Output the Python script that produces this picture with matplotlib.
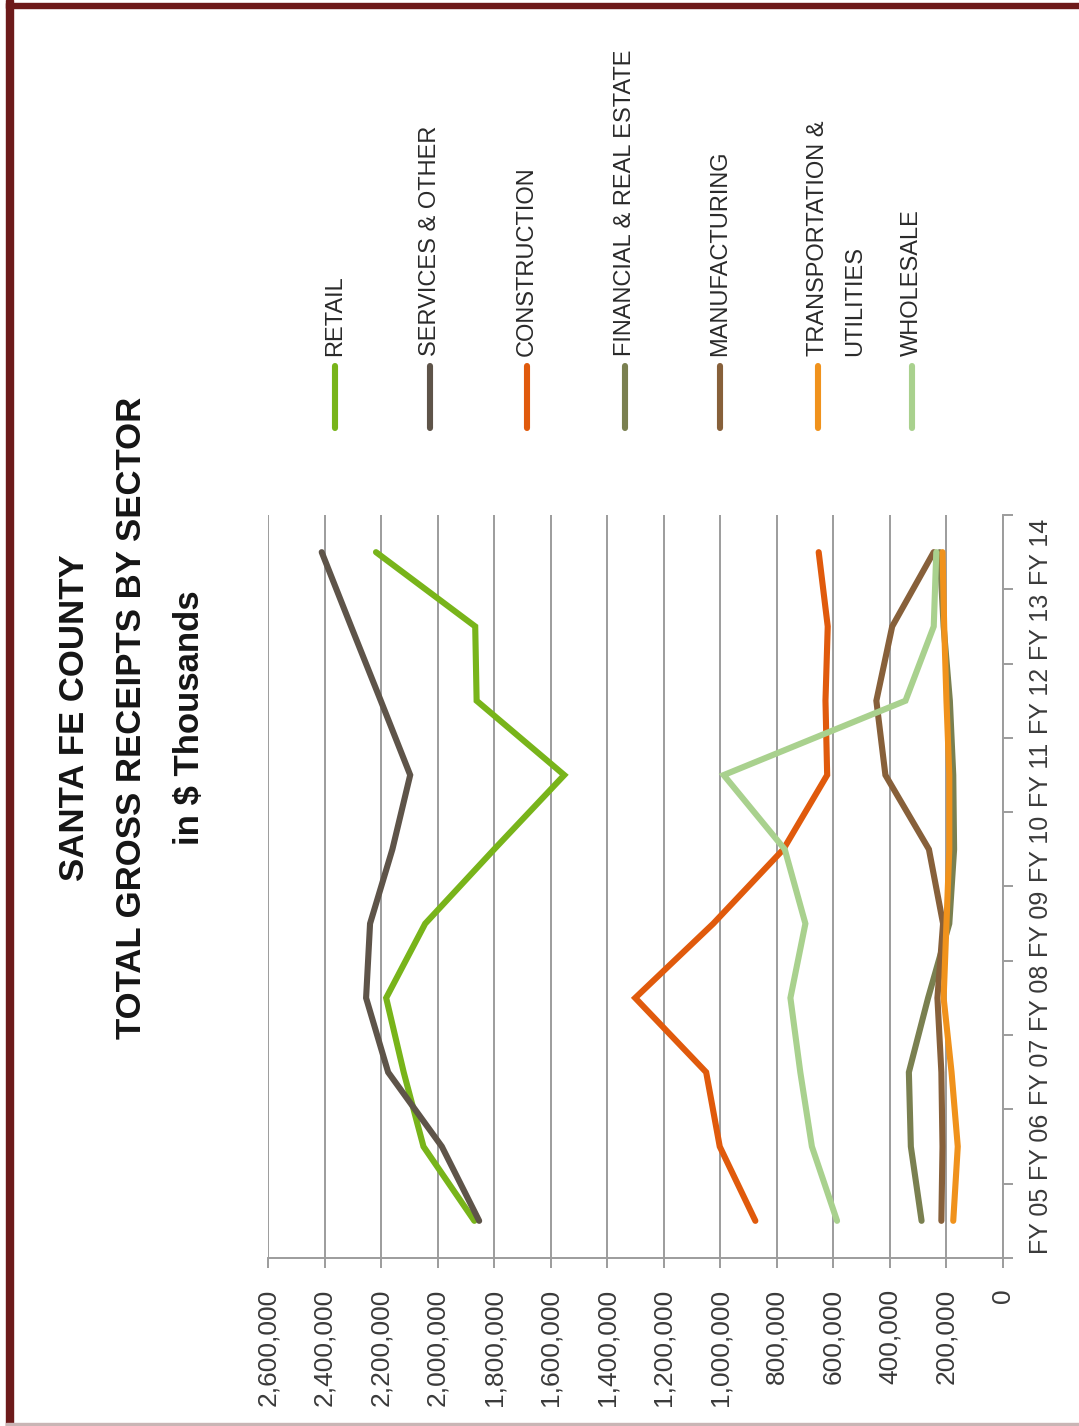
import matplotlib
matplotlib.use('Agg')
import matplotlib.pyplot as plt
from matplotlib.lines import Line2D
from matplotlib.patches import Rectangle
from matplotlib.ticker import FixedLocator, FuncFormatter

W, H = 1079, 1426

years = ['FY 05', 'FY 06', 'FY 07', 'FY 08', 'FY 09',
         'FY 10', 'FY 11', 'FY 12', 'FY 13', 'FY 14']

# gross receipts, $ thousands
retail = [1870000, 2050000, 2120000, 2182000, 2044000,
          1800000, 1552000, 1862000, 1867000, 2218000]
services = [1853000, 1985000, 2175000, 2253000, 2239000,
            2160000, 2097000, 2201000, 2306000, 2410000]
construction = [876000, 1002000, 1050000, 1301000, 1025000,
                777000, 622000, 628000, 620000, 652000]
financial = [288000, 326000, 333000, 265000, 190000,
             173000, 176000, 188000, 210000, 224000]
manufacturing = [218000, 214000, 218000, 232000, 212000,
                 262000, 416000, 448000, 392000, 245000]
transportation = [176000, 160000, 182000, 210000, 200000,
                  190000, 190000, 200000, 208000, 214000]
wholesale = [587000, 676000, 717000, 752000, 699000,
             772000, 988000, 345000, 245000, 236000]

sectors = ['RETAIL', 'SERVICES & OTHER', 'CONSTRUCTION',
           'FINANCIAL & REAL ESTATE', 'MANUFACTURING',
           'TRANSPORTATION &\nUTILITIES', 'WHOLESALE']
series = [retail, services, construction, financial,
          manufacturing, transportation, wholesale]
colors = ['#78b41a', '#5e5449', '#e05a0c', '#7a8050',
          '#87603a', '#f0921c', '#a9d18e']

value_ticks = list(range(0, 2600001, 200000))

plt.rcParams['font.family'] = ['Liberation Sans', 'DejaVu Sans']


def fx(px):
    return px / W


def fy(py):
    return 1 - py / H


fig = plt.figure(figsize=(W / 100, H / 100), dpi=100)
fig.patch.set_facecolor('white')

# frame around the page
fig.patches.append(Rectangle((fx(6), fy(1426)), fx(7), 1, transform=fig.transFigure,
                             color='#6d1a1a', zorder=0))
fig.patches.append(Rectangle((fx(6), fy(8)), 1, 5 / H, transform=fig.transFigure,
                             color='#6d1a1a', zorder=0))
fig.patches.append(Rectangle((fx(6), 0), 1, 3 / H, transform=fig.transFigure,
                             color='#c9b5b5', zorder=0))

# chart is laid out sideways: values run right to left, years bottom to top
ax = fig.add_axes([fx(268), fy(1258), fx(1003) - fx(268), fy(515) - fy(1258)])
y = list(range(len(years)))
for vals, col in zip(series, colors):
    ax.plot(vals, y, color=col, linewidth=4.4, solid_capstyle='round',
            solid_joinstyle='miter')

ax.set_xlim(2600000, 0)
ax.set_ylim(-0.5, len(years) - 0.5)

ax.xaxis.set_major_locator(FixedLocator(value_ticks))
ax.xaxis.set_major_formatter(FuncFormatter(lambda v, p: f'{v:,.0f}'))
ax.grid(axis='x', color='#9c9c9c', linewidth=1.4, zorder=0)
ax.set_axisbelow(True)

ax.yaxis.tick_right()
ax.set_yticks(y)
ax.set_yticklabels(years)
ax.set_yticks([i - 0.5 for i in range(len(years) + 1)], minor=True)

for s in ['left', 'top']:
    ax.spines[s].set_visible(False)
for s in ['bottom', 'right']:
    ax.spines[s].set_color('#9c9c9c')
    ax.spines[s].set_linewidth(1.4)

ax.tick_params(axis='x', direction='out', length=7, width=1.4, color='#9c9c9c',
               pad=15, labelsize=19, labelcolor='#3a3a3a', labelrotation=90)
ax.tick_params(axis='y', which='major', length=0, pad=19,
               labelsize=18, labelcolor='#3a3a3a')
ax.tick_params(axis='y', which='minor', direction='out', length=7, width=1.4,
               color='#9c9c9c')
for lab in ax.get_yticklabels():
    lab.set_rotation(90)
    lab.set_verticalalignment('center')
    lab.set_horizontalalignment('left')

# title, reading bottom to top
title_lines = ['SANTA FE COUNTY', 'TOTAL GROSS RECEIPTS BY SECTOR', 'in $ Thousands']
for px, line in zip([75, 132, 190], title_lines):
    fig.text(fx(px), fy(718), line, rotation=90, ha='center', va='center',
             fontsize=25, fontweight='bold', color='#151515')

# legend
legend_x = [335, 430, 527, 625, 720, 818, 912]
for px, name, col in zip(legend_x, sectors, colors):
    fig.add_artist(Line2D([fx(px), fx(px)], [fy(428), fy(366)], color=col,
                          linewidth=4.4, solid_capstyle='round',
                          transform=fig.transFigure))
    for k, part in enumerate(name.split('\n')):
        fig.text(fx(px + 37 * k), fy(356), part, rotation=90,
                 rotation_mode='anchor', ha='left', va='center',
                 fontsize=17, color='#2a2a2a')

fig.savefig('out.png', dpi=100)
